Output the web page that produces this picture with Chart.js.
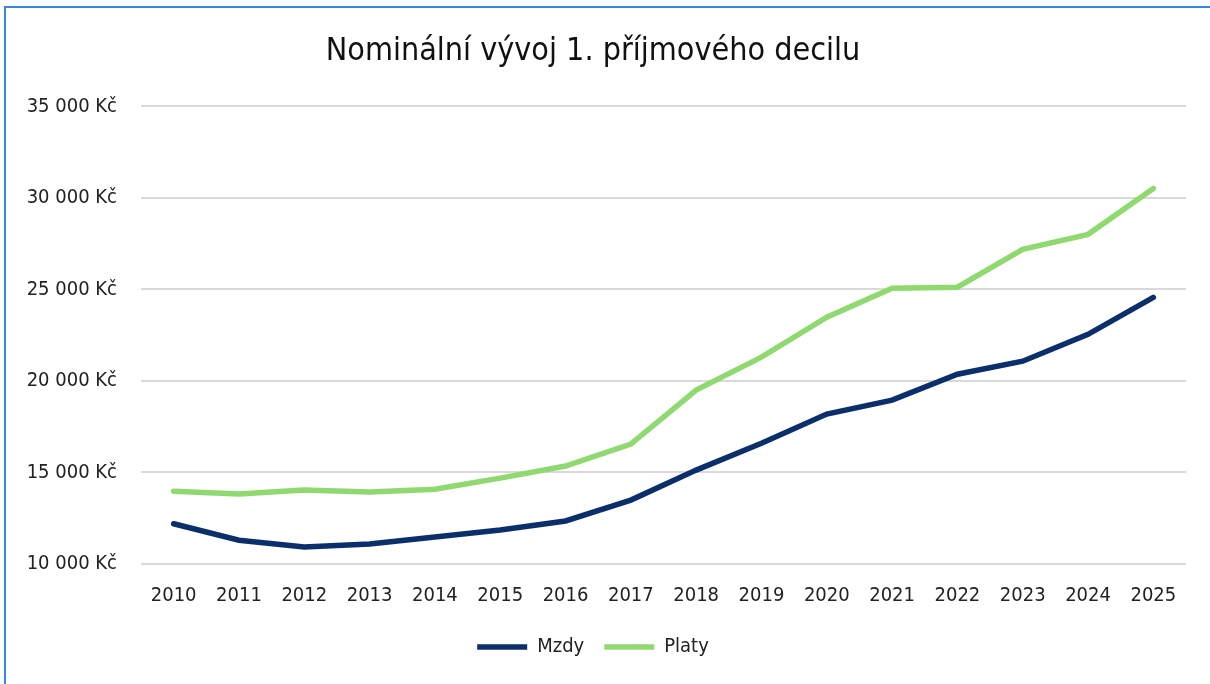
<!DOCTYPE html>
<html>
<head>
<meta charset="utf-8">
<script src="https://cdn.jsdelivr.net/npm/chart.js@4/dist/chart.umd.min.js"></script>
<style>
  html, body { margin: 0; padding: 0; background: #fff; }
  #wrap { position: relative; width: 1210px; height: 684px; overflow: hidden; }
  #frame { position: absolute; left: 4px; top: 6px; width: 1210px; height: 700px;
           border-left: 2px solid #3a86e0; border-top: 2px solid #3a86e0; pointer-events: none; }
</style>
</head>
<body>
<div id="wrap">
  <canvas id="chart" width="1210" height="684"></canvas>
  <div id="frame"></div>
</div>
<script>
// data
const years = ['2010', '2011', '2012', '2013', '2014', '2015', '2016', '2017',
               '2018', '2019', '2020', '2021', '2022', '2023', '2024', '2025'];
const mzdy = [12200, 11300, 10930, 11090, 11470, 11860, 12350, 13490,
              15130, 16600, 18190, 18950, 20370, 21080, 22550, 24570];
const platy = [13980, 13820, 14040, 13930, 14090, 14690, 15350, 16550,
               19500, 21300, 23480, 25070, 25120, 27190, 28010, 30520];
const yTicks = [10000, 15000, 20000, 25000, 30000, 35000];

const FONT = "'Liberation Sans Narrow', 'DejaVu Sans Condensed', 'Roboto', sans-serif";

const fmtKc = (v) => String(v).replace(/\B(?=(\d{3})+(?!\d))/g, ' ') + ' Kč';

const ctx = document.getElementById('chart').getContext('2d');
new Chart(ctx, {
  type: 'line',
  data: {
    labels: years,
    datasets: [
      {
        label: 'Mzdy',
        data: mzdy,
        borderColor: '#0b2f6b',
        backgroundColor: '#0b2f6b',
        borderWidth: 5.5,
        borderCapStyle: 'round',
        pointRadius: 0,
        tension: 0,
        fill: false,
      },
      {
        label: 'Platy',
        data: platy,
        borderColor: '#8fd970',
        backgroundColor: '#8fd970',
        borderWidth: 5.5,
        borderCapStyle: 'round',
        pointRadius: 0,
        tension: 0,
        fill: false,
      },
    ],
  },
  options: {
    responsive: false,
    animation: false,
    layout: { padding: { left: 0, right: 24, top: 0, bottom: 17 } },
    plugins: {
      title: {
        display: true,
        text: 'Nominální vývoj 1. příjmového decilu',
        color: '#111',
        font: { family: FONT, size: 32, weight: 'normal' },
        padding: { top: 32, bottom: 36 },
      },
      legend: {
        position: 'bottom',
        labels: {
          usePointStyle: true,
          pointStyle: 'line',
          pointStyleWidth: 50,
          boxWidth: 50,
          boxHeight: 5,
          color: '#222',
          font: { family: FONT, size: 20 },
          padding: 20,
        },
      },
      tooltip: { enabled: false },
    },
    scales: {
      x: {
        offset: true,
        afterFit: (scale) => { scale.height = 53; },
        grid: { display: false, drawTicks: false, offset: true },
        border: { display: false },
        ticks: { color: '#222', font: { family: FONT, size: 20 }, padding: 20 },
      },
      y: {
        min: 10000,
        max: 35000,
        afterBuildTicks: (scale) => { scale.ticks = yTicks.map((v) => ({ value: v })); },
        afterFit: (scale) => { scale.width = 141; },
        grid: { color: '#d9d9d9', lineWidth: 2, drawTicks: false },
        border: { display: false },
        ticks: {
          color: '#222',
          font: { family: FONT, size: 20 },
          padding: 24,
          callback: (v) => fmtKc(v),
        },
      },
    },
  },
});
</script>
</body>
</html>
